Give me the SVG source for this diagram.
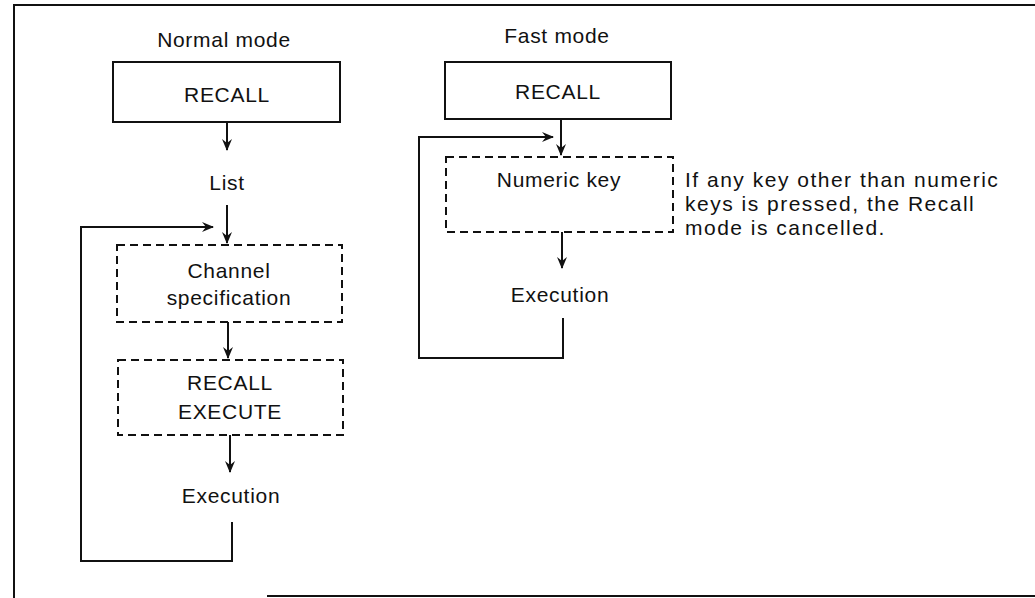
<svg xmlns="http://www.w3.org/2000/svg" width="1035" height="598" viewBox="0 0 1035 598">
<style>
text{font-family:"Liberation Sans",Arial,sans-serif;font-size:21px;fill:#111;letter-spacing:0.7px}
.c{text-anchor:middle}
.solid{fill:none;stroke:#111;stroke-width:2}
.dash{fill:none;stroke:#111;stroke-width:2;stroke-dasharray:8 5}
.ln{fill:none;stroke:#111;stroke-width:2}
.note{letter-spacing:1.5px}
</style>
<defs>
<marker id="ah" viewBox="0 0 12 10" refX="11" refY="5" markerWidth="12" markerHeight="10" markerUnits="userSpaceOnUse" orient="auto">
<path d="M0,0 L12,5 L0,10 L4,5 z" fill="#111"/>
</marker>
</defs>
<rect width="1035" height="598" fill="#fff"/>
<g id="frame" class="ln">
<path d="M1035,5 H14 V598"/>
<path d="M267,596 H1035"/>
</g>
<g id="titles">
<text class="c" x="224" y="47">Normal mode</text>
<text class="c" x="557" y="43">Fast mode</text>
</g>
<g id="n-recall">
<rect class="solid" x="113" y="62" width="227" height="60"/>
<text class="c" x="227" y="102">RECALL</text>
</g>
<g id="n-list">
<text class="c" x="227" y="190">List</text>
</g>
<g id="n-channel">
<rect class="dash" x="117" y="245" width="225" height="77"/>
<text class="c" x="229" y="278">Channel</text>
<text class="c" x="229" y="305">specification</text>
</g>
<g id="n-recall-execute">
<rect class="dash" x="118" y="360" width="225" height="75"/>
<text class="c" x="230" y="390">RECALL</text>
<text class="c" x="230" y="419">EXECUTE</text>
</g>
<g id="n-execution">
<text class="c" x="231" y="503">Execution</text>
</g>
<g id="f-recall">
<rect class="solid" x="445" y="62" width="226" height="57"/>
<text class="c" x="558" y="99">RECALL</text>
</g>
<g id="f-numeric">
<rect class="dash" x="446" y="157" width="227" height="75"/>
<text class="c" x="559" y="187">Numeric key</text>
</g>
<g id="f-execution">
<text class="c" x="560" y="302">Execution</text>
</g>
<g id="note">
<text class="note" x="685" y="187">If any key other than numeric</text>
<text class="note" x="685" y="211">keys is pressed, the Recall</text>
<text class="note" x="685" y="235">mode is cancelled.</text>
</g>
<g id="connectors" class="ln">
<path d="M227,122 V150" marker-end="url(#ah)"/>
<path d="M227,205 V243" marker-end="url(#ah)"/>
<path d="M228,322 V358" marker-end="url(#ah)"/>
<path d="M230,435 V472" marker-end="url(#ah)"/>
<path d="M232,522 V561 H81 V227 H213" marker-end="url(#ah)"/>
<path d="M561,119 V155" marker-end="url(#ah)"/>
<path d="M562,232 V268" marker-end="url(#ah)"/>
<path d="M563,318 V358 H419 V137 H553" marker-end="url(#ah)"/>
</g>
</svg>
